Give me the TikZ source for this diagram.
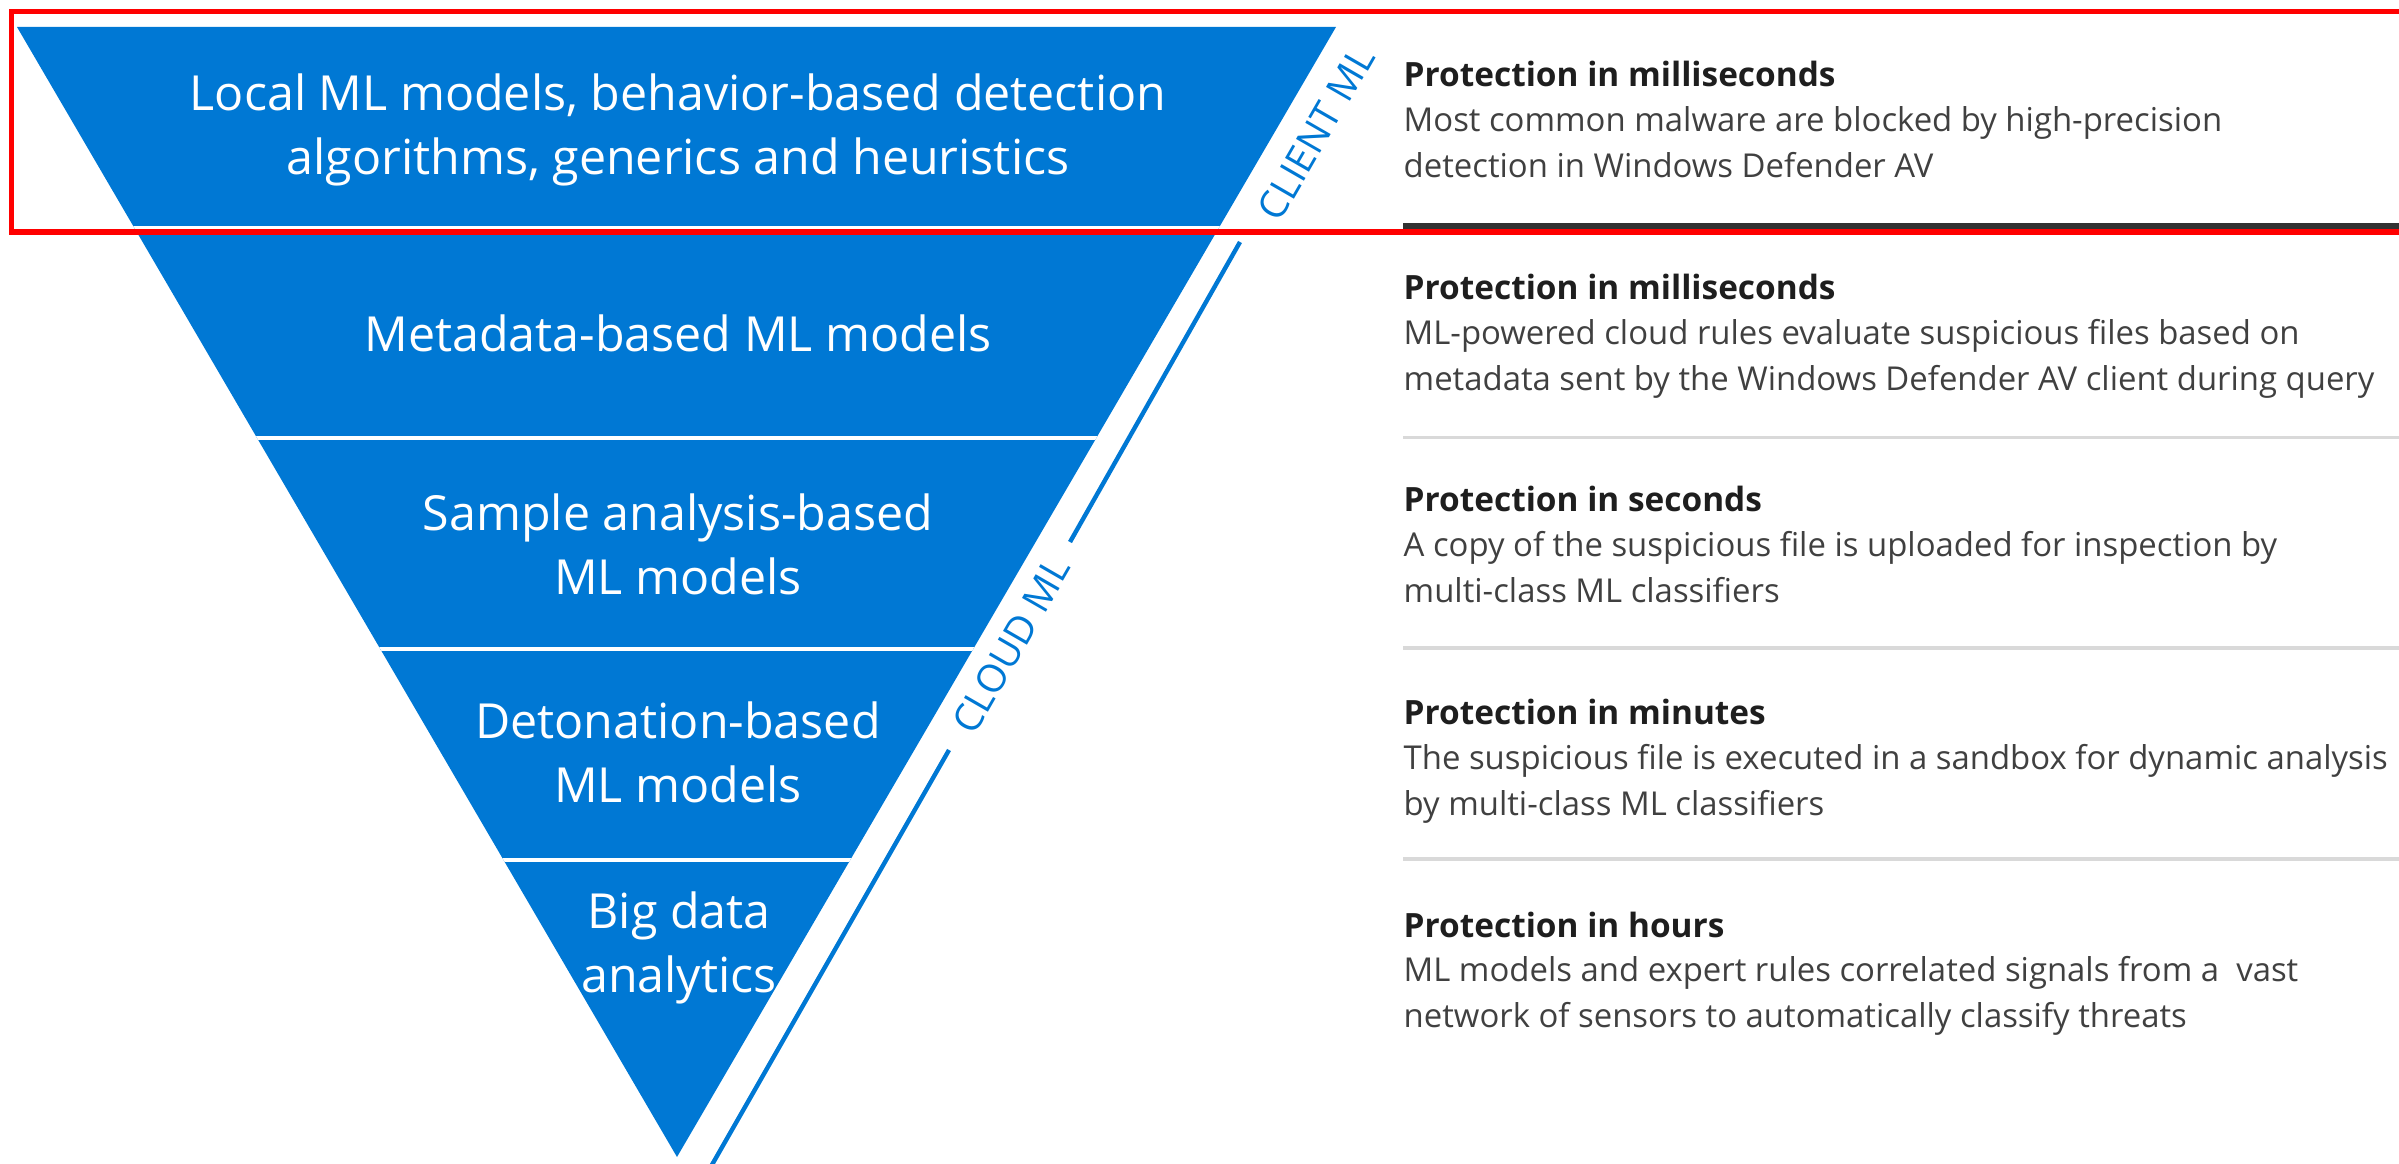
\documentclass[tikz,border=0pt]{standalone}
\usepackage{fontspec}
\setmainfont{Open Sans}
\usepackage{xcolor}
\usepackage{tikz}
\usetikzlibrary{positioning}

\definecolor{msblue}{RGB}{0,120,212}
\definecolor{headgray}{RGB}{30,30,30}
\definecolor{descgray}{RGB}{64,64,64}
\definecolor{rulegray}{RGB}{50,50,50}
\definecolor{sepgray}{RGB}{217,217,217}

\begin{document}
\begin{tikzpicture}[x=0.01cm, y=-0.01cm,
    band/.style={text=white, align=center, inner sep=0pt, font=\fontsize{13.75}{18.2}\selectfont},
    head/.style={anchor=base west, inner sep=0pt, text=headgray, font=\fontsize{9.5}{13}\selectfont\bfseries},
    desc/.style={inner sep=0pt, text=descgray, align=left, font=\fontsize{9.35}{13.1}\selectfont},
    sidetag/.style={text=msblue, rotate=60, inner sep=0pt, font=\fontsize{11}{12}\selectfont},
    seprule/.style={draw=sepgray, line width=1.1pt}]
    \useasboundingbox (0,0) rectangle (2399,1164);

    % inverted pyramid
    \coordinate (tl) at (17,27);
    \coordinate (tr) at (1336,27);
    \coordinate (apex) at (677,1157);
    \fill[msblue] (tl) -- (tr) -- (apex) -- cycle;
    \begin{scope}
        \clip (tl) -- (tr) -- (apex) -- cycle;
        \foreach \y/\w in {229/1.7, 438/1.4, 649/1.4, 860/1.4}
            \draw[white, line width=\w pt] (0,\y) -- (1400,\y);
    \end{scope}

    \node[band] (band1) at (678,130) {Local ML models, behavior-based detection\\algorithms, generics and heuristics};
    \node[band] (band2) at (678,333) {Metadata-based ML models};
    \node[band] (band3) at (678,544) {Sample analysis-based\\ML models};
    \node[band] (band4) at (678,752) {Detonation-based\\ML models};
    \node[band] (band5) at (679,948) {Big data\\analytics};

    % client / cloud marker
    \coordinate (la) at (1240,242);
    \coordinate (lb) at (1070,542);
    \coordinate (lc) at (949,750);
    \coordinate (ld) at (709,1170);
    \draw[msblue, line width=1.25pt] (la) -- (lb) (lc) -- (ld);
    \node[sidetag] (client) at (1316,133) {CLIENT ML};
    \node[sidetag] (cloud) at (1011,645) {CLOUD ML};

    % descriptions
    \node[head] (head1) at (1403,87) {Protection in milliseconds};
    \node[desc, below=0.19cm of head1.base west, anchor=north west] (desc1) {Most common malware are blocked by high-precision\\detection in Windows Defender AV};
    \node[head] (head2) at (1403,299.5) {Protection in milliseconds};
    \node[desc, below=0.19cm of head2.base west, anchor=north west] (desc2) {ML-powered cloud rules evaluate suspicious files based on\\metadata sent by the Windows Defender AV client during query};
    \node[head] (head3) at (1403,512) {Protection in seconds};
    \node[desc, below=0.19cm of head3.base west, anchor=north west] (desc3) {A copy of the suspicious file is uploaded for inspection by\\multi-class ML classifiers};
    \node[head] (head4) at (1403,724.5) {Protection in minutes};
    \node[desc, below=0.19cm of head4.base west, anchor=north west] (desc4) {The suspicious file is executed in a sandbox for dynamic analysis\\by multi-class ML classifiers};
    \node[head] (head5) at (1403,937) {Protection in hours};
    \node[desc, below=0.19cm of head5.base west, anchor=north west] (desc5) {ML models and expert rules correlated signals from a~ vast\\network of sensors to automatically classify threats};

    \draw[rulegray, line width=1.7pt] (1403,226) -- (2420,226);
    \foreach \y in {437.5, 648, 859}
        \draw[seprule] (1403,\y) -- (2420,\y);

    % highlight frame
    \draw[red, line width=1.45pt] (11.5,11.5) rectangle (2420,232);
\end{tikzpicture}
\end{document}
